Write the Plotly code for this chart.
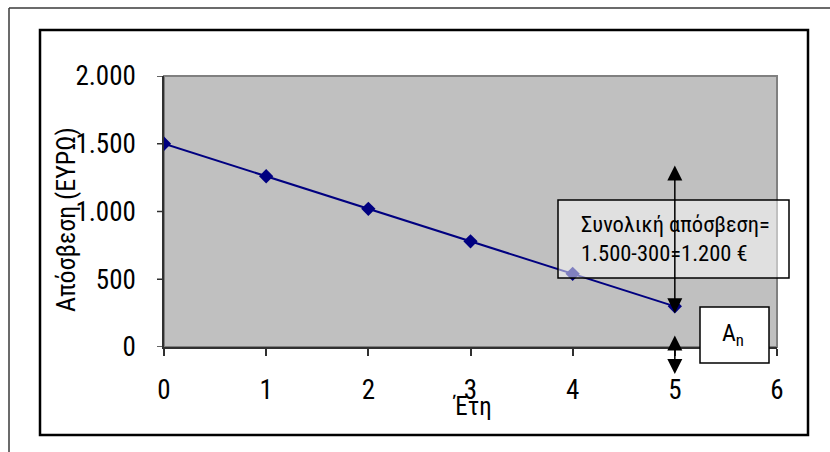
import plotly.graph_objects as go

# Straight-line depreciation of an asset over five years (EUR)
years = [0, 1, 2, 3, 4, 5]
amortization = [1500, 1260, 1020, 780, 540, 300]
x_ticks = [0, 1, 2, 3, 4, 5, 6]
y_ticks = [0, 500, 1000, 1500, 2000]

FONT = "Roboto Condensed, Archivo Narrow, DejaVu Sans Condensed, sans-serif"

W, H = 830, 452
L, R, T, B = 164, 53, 76, 105
PW, PH = W - L - R, H - T - B
TICK_LEN = 7


def px(x):
    return (x - L) / PW


def py(y):
    return (H - B - y) / PH


fig = go.Figure()
fig.add_trace(go.Scatter(
    x=years, y=amortization, mode="lines+markers",
    line=dict(color="#000080", width=2),
    marker=dict(symbol="diamond", size=11, color="#000080"),
    showlegend=False, hoverinfo="skip",
))

shapes = [
    # plot area fill with grey frame
    dict(type="rect", xref="paper", yref="paper", x0=0, y0=0, x1=1, y1=1,
         fillcolor="#C0C0C0", line=dict(color="#808080", width=2), layer="below"),
    # outer page frame (top and left edges)
    dict(type="line", xref="paper", yref="paper", x0=px(9), y0=py(8), x1=px(840), y1=py(8),
         line=dict(color="#3a3a3a", width=1.5)),
    dict(type="line", xref="paper", yref="paper", x0=px(9), y0=py(8), x1=px(9), y1=py(460),
         line=dict(color="#3a3a3a", width=1.5)),
    # chart frame
    dict(type="rect", xref="paper", yref="paper", x0=px(40), y0=py(435), x1=px(808), y1=py(30),
         line=dict(color="black", width=2.5), fillcolor="rgba(0,0,0,0)"),
    # total depreciation note box
    dict(type="rect", xref="paper", yref="paper", x0=px(558), y0=py(278), x1=px(789), y1=py(200),
         line=dict(color="black", width=1.5), fillcolor="rgba(255,255,255,0.5)", layer="above"),
    # residual value box
    dict(type="rect", xref="paper", yref="paper", x0=px(700), y0=py(363), x1=px(769), y1=py(307),
         line=dict(color="black", width=1.5), fillcolor="white", layer="above"),
]
# short tick marks on the value axis (labels sit further out)
for v in y_ticks:
    shapes.append(dict(type="line", xref="paper", yref="y", x0=-TICK_LEN / PW, x1=0, y0=v, y1=v,
                       line=dict(color="#303030", width=1.5)))

annotations = [
    dict(text="Συνολική απόσβεση=<br>1.500-300=1.200 €", xref="paper", yref="paper",
         x=px(579), y=py(238.5), xanchor="left", yanchor="middle", align="left",
         showarrow=False, font=dict(family=FONT, size=22.5, color="black")),
    dict(text="A<sub>n</sub>", xref="paper", yref="paper",
         x=px(733), y=py(334), xanchor="center", yanchor="middle",
         showarrow=False, font=dict(family=FONT, size=24, color="black")),
    # total depreciation span
    dict(text="", x=5, y=250, ax=5, ay=1350, axref="x", ayref="y", xref="x", yref="y",
         showarrow=True, arrowhead=2, startarrowhead=2, arrowside="end+start",
         arrowsize=2, startarrowsize=2, arrowwidth=1.5, arrowcolor="black"),
    # residual value span
    dict(text="", x=5, y=-199, ax=5, ay=96, axref="x", ayref="y", xref="x", yref="y",
         showarrow=True, arrowhead=2, startarrowhead=2, arrowside="end+start",
         arrowsize=2, startarrowsize=2, arrowwidth=1.5, arrowcolor="black"),
    # axis titles
    dict(text="Απόσβεση (ΕΥΡΩ)", xref="paper", yref="paper", x=px(66), y=py(220),
         textangle=-90, showarrow=False, xanchor="center", yanchor="middle",
         font=dict(family=FONT, size=26, color="black")),
    dict(text="Έτη", xref="paper", yref="paper", x=px(472), y=py(406),
         showarrow=False, xanchor="center", yanchor="middle",
         font=dict(family=FONT, size=25, color="black")),
]

fig.update_layout(
    width=W, height=H,
    margin=dict(l=L, r=R, t=T, b=B, pad=0),
    paper_bgcolor="white", plot_bgcolor="#C0C0C0",
    separators=",.",
    shapes=shapes, annotations=annotations,
    font=dict(family=FONT, color="black"),
    xaxis=dict(range=[0, 6], tickvals=x_ticks, showgrid=False, zeroline=False,
               showline=True, linecolor="#303030", linewidth=1.5,
               ticks="outside", ticklen=TICK_LEN, tickcolor="#303030", tickwidth=1.5,
               ticklabelposition="outside", ticklabelstandoff=11,
               tickfont=dict(family=FONT, size=27, color="black")),
    yaxis=dict(range=[0, 2000], tickvals=y_ticks, tickformat=",d",
               showgrid=False, zeroline=False,
               showline=True, linecolor="#303030", linewidth=1.5,
               ticks="outside", ticklen=21, tickcolor="rgba(0,0,0,0)", tickwidth=1.5,
               tickfont=dict(family=FONT, size=27, color="black")),
)

fig.write_html("out.html")
